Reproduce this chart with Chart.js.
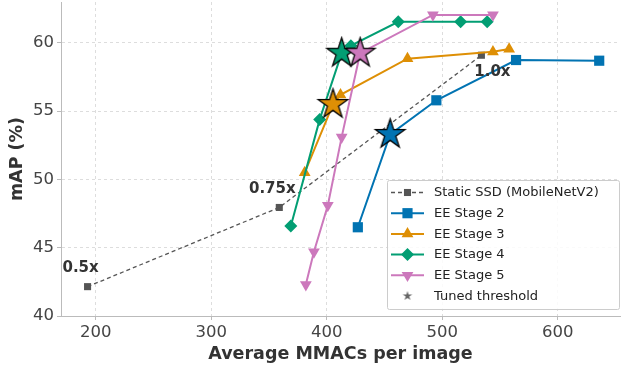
<!DOCTYPE html>
<html>
<head>
<meta charset="utf-8">
<script src="https://cdn.jsdelivr.net/npm/chart.js@4.4.0/dist/chart.umd.min.js"></script>
<style>
  html, body { margin: 0; padding: 0; background: #fff; }
  #wrap { position: relative; width: 621px; height: 370px; }
</style>
</head>
<body>
<div id="wrap"><canvas id="c" width="621" height="370"></canvas></div>
<script>
// ---- data ----
const staticX = [193, 359, 534];
const staticY = [42.15, 47.95, 59.1];
const staticLabels = ["0.5x", "0.75x", "1.0x"];

const s2X = [427, 455, 495, 564, 636];
const s2Y = [46.5, 53.3, 55.8, 58.75, 58.7];

const s3X = [381, 405.5, 412, 470, 544, 558];
const s3Y = [50.5, 55.5, 56.2, 58.85, 59.35, 59.55];

const s4X = [369, 394, 413, 421, 462, 516, 539];
const s4Y = [46.6, 54.4, 59.25, 59.8, 61.55, 61.55, 61.55];

const s5X = [382, 389, 401, 413, 429, 492, 544];
const s5Y = [42.3, 44.7, 48.1, 53.1, 59.25, 62.05, 62.05];

const starX = [455, 405.5, 413, 429];
const starY = [53.3, 55.5, 59.25, 59.25];

const seriesNames = ["Static SSD (MobileNetV2)", "EE Stage 2", "EE Stage 3", "EE Stage 4", "EE Stage 5", "Tuned threshold"];
const xTicks = [200, 300, 400, 500, 600];
const yTicks = [40, 45, 50, 55, 60];

// ---- styles ----
const C_STATIC = '#555555';
const C2 = '#0173B2', C3 = '#DE8F05', C4 = '#029E73', C5 = '#CC78BC';
const FONT = "'DejaVu Sans', sans-serif";

function pts(xs, ys) { return xs.map((x, i) => ({x: x, y: ys[i]})); }

function makeStar(color, r, lw) {
  const pad = 2;
  const size = Math.ceil(2 * (r + pad));
  const cv = document.createElement('canvas');
  cv.width = size; cv.height = size;
  const ctx = cv.getContext('2d');
  const cx = size / 2, cy = size / 2;
  const ri = r * 0.381966;
  ctx.beginPath();
  for (let i = 0; i < 10; i++) {
    const rad = (i % 2 === 0) ? r : ri;
    const a = -Math.PI / 2 + i * Math.PI / 5;
    const px = cx + rad * Math.cos(a), py = cy + rad * Math.sin(a);
    if (i === 0) ctx.moveTo(px, py); else ctx.lineTo(px, py);
  }
  ctx.closePath();
  ctx.fillStyle = color;
  ctx.fill();
  if (lw > 0) { ctx.lineWidth = lw; ctx.strokeStyle = '#000'; ctx.lineJoin = 'miter'; ctx.stroke(); }
  return cv;
}
const starColors = [C2, C3, C4, C5];
const starImgs = starColors.map(c => makeStar(c, 15.5, 1.3));
const legendStar = makeStar('#666666', 5, 0);

const lineDs = (label, xs, ys, color, style, radius, order, rotation) => ({
  label: label,
  data: pts(xs, ys),
  showLine: true,
  borderColor: color,
  backgroundColor: color,
  borderWidth: 2,
  pointStyle: style,
  pointRadius: radius,
  pointRotation: rotation || 0,
  pointBackgroundColor: color,
  pointBorderColor: color,
  pointBorderWidth: 0,
  order: order,
});

const datasets = [
  Object.assign(lineDs(seriesNames[0], staticX, staticY, C_STATIC, 'rect', 5, 6), {borderWidth: 1.3, borderDash: [4, 3]}),
  lineDs(seriesNames[1], s2X, s2Y, C2, 'rect', 7.2, 5),
  lineDs(seriesNames[2], s3X, s3Y, C3, 'triangle', 6.8, 4),
  lineDs(seriesNames[3], s4X, s4Y, C4, 'rectRot', 6.5, 3),
  lineDs(seriesNames[4], s5X, s5Y, C5, 'triangle', 6.8, 2, 180),
  {
    label: seriesNames[5],
    data: pts(starX, starY),
    showLine: false,
    pointStyle: starImgs,
    pointRadius: 16,
    order: 1,
  }
];

const annotPlugin = {
  id: 'annot',
  afterDatasetsDraw(chart) {
    const ctx = chart.ctx, xs = chart.scales.x, ys = chart.scales.y;
    const offs = [[-7, -19], [-7, -18], [11, 17]];
    ctx.save();
    ctx.font = "bold 15px " + FONT;
    ctx.fillStyle = '#333333';
    ctx.textAlign = 'center';
    ctx.textBaseline = 'middle';
    staticLabels.forEach((t, i) => {
      const px = xs.getPixelForValue(staticX[i]) + offs[i][0];
      const py = ys.getPixelForValue(staticY[i]) + offs[i][1];
      ctx.fillText(t, px, py);
    });
    ctx.restore();
  }
};

const legendPlugin = {
  id: 'mylegend',
  afterDraw(chart) {
    const ctx = chart.ctx;
    const bx = 387.5, by = 180.5, bw = 232, bh = 129;
    ctx.save();
    ctx.beginPath();
    if (ctx.roundRect) ctx.roundRect(bx, by, bw, bh, 2); else ctx.rect(bx, by, bw, bh);
    ctx.fillStyle = 'rgba(255,255,255,0.85)';
    ctx.fill();
    ctx.strokeStyle = '#cccccc';
    ctx.lineWidth = 1;
    ctx.stroke();

    const rowY0 = 192.5, step = 20.7;
    const lx0 = 391, lx1 = 424, mx = 407.5, tx = 434;
    ctx.font = "13px " + FONT;
    ctx.textBaseline = 'middle';
    ctx.textAlign = 'left';
    datasets.forEach((ds, i) => {
      const y = rowY0 + i * step;
      if (i < 5) {
        ctx.save();
        ctx.beginPath();
        ctx.strokeStyle = ds.borderColor;
        ctx.lineWidth = ds.borderWidth;
        ctx.setLineDash(ds.borderDash || []);
        ctx.moveTo(lx0, y); ctx.lineTo(lx1, y);
        ctx.stroke();
        ctx.restore();
        ctx.save();
        ctx.fillStyle = ds.borderColor;
        ctx.strokeStyle = ds.borderColor;
        Chart.helpers.drawPoint(ctx, {
          pointStyle: ds.pointStyle,
          radius: ds.pointRadius,
          rotation: ds.pointRotation || 0,
          borderWidth: 0
        }, mx, y);
        ctx.restore();
      } else {
        ctx.drawImage(legendStar, mx - legendStar.width / 2, y - legendStar.height / 2);
      }
      ctx.fillStyle = '#222222';
      ctx.fillText(ds.label, tx, y + 0.5);
    });
    ctx.restore();
  }
};

new Chart(document.getElementById('c'), {
  type: 'scatter',
  data: { datasets: datasets },
  options: {
    responsive: false,
    animation: false,
    devicePixelRatio: 1,
    layout: { autoPadding: false, padding: { top: 2, right: 1, left: 0, bottom: 0 } },
    plugins: { legend: { display: false }, tooltip: { enabled: false } },
    scales: {
      x: {
        type: 'linear',
        min: 170, max: 654,
        afterFit(s) { s.height = 54; s.paddingLeft = 0; s.paddingRight = 0; },
        afterBuildTicks(s) { s.ticks = xTicks.map(v => ({value: v})); },
        ticks: { font: { size: 16.5, family: FONT }, color: '#444444', padding: 3, includeBounds: false },
        grid: { color: '#dddddd', lineWidth: 1, drawTicks: true, tickLength: 4, tickColor: '#bbbbbb', tickBorderDash: [] },
        border: { display: true, color: '#bbbbbb', width: 1, dash: [3, 3] },
        title: { display: true, text: 'Average MMACs per image', font: { size: 17.5, weight: 'bold', family: FONT }, color: '#333333', padding: { top: 0, bottom: 5 } }
      },
      y: {
        type: 'linear',
        min: 40, max: 63,
        afterFit(s) { s.width = 61; s.paddingTop = 0; s.paddingBottom = 0; },
        afterBuildTicks(s) { s.ticks = yTicks.map(v => ({value: v})); },
        ticks: { font: { size: 16.5, family: FONT }, color: '#444444', padding: 3, includeBounds: false },
        grid: { color: '#dddddd', lineWidth: 1, drawTicks: true, tickLength: 4, tickColor: '#bbbbbb', tickBorderDash: [] },
        border: { display: true, color: '#bbbbbb', width: 1, dash: [3, 3] },
        title: { display: true, text: 'mAP (%)', font: { size: 17.5, weight: 'bold', family: FONT }, color: '#333333', padding: { top: 7, bottom: 0 } }
      }
    }
  },
  plugins: [annotPlugin, legendPlugin]
});
</script>
</body>
</html>
